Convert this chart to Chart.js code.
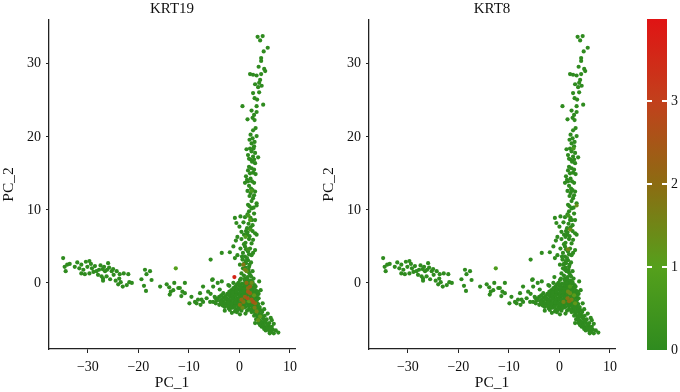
<!DOCTYPE html>
<html>
<head>
<meta charset="utf-8">
<script src="https://cdn.jsdelivr.net/npm/chart.js@4/dist/chart.umd.min.js"></script>
<style>
  html, body { margin: 0; padding: 0; background: #fff; }
  #wrap { position: relative; width: 680px; height: 392px; overflow: hidden; }
  canvas { position: absolute; top: 0; }
</style>
</head>
<body>
<div id="wrap">
  <canvas id="krt19" width="310" height="392" style="left:0"></canvas>
  <canvas id="krt8" width="310" height="392" style="left:320px"></canvas>
  <canvas id="scaleBar" width="40" height="392" style="left:640px"></canvas>
</div>
<script>
// PCA coordinates (PC_1, PC_2) of cells with no KRT19 / KRT8 signal
const leftArmCells = [
  [-34.9,3.4],[-34.6,2.2],[-34.1,2.5],[-33.6,2.6],[-34.4,1.6],[-32.1,2.8],[-31.3,2.5],[-31.7,2.0],[-30.9,1.8],[-30.4,2.9],
  [-29.7,3.0],[-29.4,2.6],[-30.1,2.2],[-31.3,1.3],[-30.6,1.2],[-29.7,1.3],[-28.9,1.5],[-28.3,1.6],[-27.8,1.8],[-27.1,1.9],
  [-26.6,1.6],[-26.0,2.7],[-25.8,2.1],[-26.2,1.8],[-25.3,1.6],[-24.9,1.1],[-27.3,0.9],[-27.0,0.6],[-26.3,0.9],[-25.6,0.5],
  [-27.0,0.3],[-24.3,1.6],[-23.7,1.2],[-23.8,0.6],[-22.9,1.3],[-24.5,0.3],[-23.5,0.1],[-22.0,1.2],[-21.8,0.1],[-21.3,0.0],
  [-23.1,-0.5],[-22.3,-0.3],[-28.6,2.3],[-27.5,2.4],[-26.8,2.2],[-25.0,1.9],[-24.0,-0.2],[-28.0,1.1],[-29.2,2.0],[-32.6,2.2],
  [-19.4,0.5],[-18.7,1.8],[-17.7,1.6],[-18.4,1.2],[-17.4,0.4],[-18.9,-0.4],[-18.5,-1.1],[-15.7,-0.5],[-14.4,-0.2],[-13.9,-0.6],
  [-13.6,-1.2],[-12.9,0.0],[-13.8,-1.6],[-11.8,-0.7],[-13.1,-1.0],[-11.3,-1.2],[-11.5,-1.8],[-10.8,-1.4],[-9.5,-1.9],[-8.8,-2.6],
  [-9.9,-2.8],[-8.2,-2.3],[-7.7,-3.0],[-7.2,-2.6],[-6.5,-2.1],[-5.7,-1.5],[-5.2,-0.5],[-5.4,0.4],[-3.5,0.2],[-12.1,-0.7],
  [-10.8,0.0],[-8.5,-2.8],[-7.5,-2.3],[-5.8,-2.6],[-4.9,-1.9],[-6.2,-1.2],[-7.2,-0.5],[-7.8,-1.4],[-4.3,0.0],[-3.9,-0.9],
  [-2.2,-0.3],[-5.3,0.5],[-2.0,-0.4],[-1.2,0.0]
];
const upperArmCells = [
  [3.6,33.7],[4.6,33.8],[4.1,33.2],[5.6,32.2],[4.3,30.8],[4.3,30.4],[4.9,29.3],[5.1,29.0],[4.3,28.6],[2.1,28.6],
  [2.7,28.5],[3.4,28.4],[4.1,27.8],[3.9,27.4],[3.7,26.8],[2.7,26.0],[3.0,25.3],[3.5,25.1],[4.7,24.4],[0.6,24.2],
  [3.4,24.2],[2.9,23.0],[2.6,22.6],[3.0,22.3],[1.6,22.4],[3.2,21.2],[2.7,20.9],[2.2,20.3],[3.4,20.1],[2.4,19.1],
  [2.9,18.7],[2.1,18.4],[1.4,18.3],[2.4,18.0],[3.1,17.8],[1.7,17.5],[2.7,17.3],[3.7,17.2],[2.2,16.9],[3.1,16.4],
  [2.4,15.7],[1.7,15.4],[2.7,15.1],[3.2,14.9],[1.3,14.6],[2.2,14.3],[1.7,13.9],[2.9,13.7],[1.1,13.7],[2.6,12.7],
  [3.1,12.5],[2.2,12.3],[2.7,11.6],[3.4,10.9],[1.7,10.7],[2.4,10.2],[2.9,9.5],[1.9,9.8],[1.1,9.0],[0.2,9.1],
  [-0.9,8.9],[2.2,8.9],[3.1,8.6],[-0.6,8.2],[0.8,8.3],[1.8,8.1],[2.6,7.9],[0.0,7.7],[1.5,7.5],[2.2,7.6],
  [0.4,7.0],[3.1,6.8],[3.4,6.6],[1.5,6.6],[-0.4,6.3],[0.4,6.0],[1.9,6.0],[-0.7,5.8],[-1.2,5.0],[1.1,5.0],
  [2.1,4.7],[0.2,4.7],[1.7,4.3],[3.1,4.5],[-1.9,4.2],[-3.5,4.1],[-0.4,3.8],[1.1,3.6],[0.6,3.2],[1.7,3.1],
  [-5.7,3.2],[1.3,2.7],[0.1,2.5],[1.9,2.2],[0.7,2.0],[0.4,1.3],[2.1,1.1],[1.1,0.6],[0.1,0.4],[-0.9,3.4],
  [2.0,19.6],[2.6,19.8],[3.0,19.3],[1.9,17.0],[2.9,16.9],[2.5,16.6],[1.9,15.9],[2.9,15.5],[2.1,15.0],[1.5,14.1],
  [2.5,13.9],[1.9,13.3],[2.3,12.9],[1.6,12.6],[2.0,11.9],[2.9,12.0],[2.4,11.2],[2.0,10.5],[2.8,10.3],[1.6,9.4],
  [2.5,8.6],[1.3,7.1],[2.6,7.1],[0.9,6.6],[1.2,5.5],[2.4,5.4],[0.7,4.1],[2.4,3.8],[0.9,2.6],[2.3,2.8],
  [1.8,1.8],[0.9,1.0],[1.6,0.8],[2.6,1.6],[2.8,0.6],[3.4,23.4],[2.4,23.6],[3.9,26.1],[4.4,27.0],[3.1,27.2],
  [4.8,31.7],[3.8,29.6],[1.5,0.2],[2.3,0.9],[1.9,1.4],[1.2,2.1],[2.0,2.5],[1.5,3.4],[1.9,3.9],[1.3,4.6],
  [2.7,4.1],[0.9,5.3],[2.7,5.9],[1.6,6.9],[2.0,6.4],[0.5,3.6],[1.2,3.0]
];
const coreCells = [
  [0.3,0.6],[1.0,0.4],[1.6,0.5],[2.2,0.3],[-0.2,0.0],[0.5,-0.1],[1.2,0.1],[1.9,-0.1],[2.6,0.1],
  [-0.8,-0.5],[-0.1,-0.4],[0.6,-0.6],[1.3,-0.5],[2.0,-0.4],[2.7,-0.6],[3.2,-0.5],
  [-1.6,-1.0],[-0.9,-1.1],[-0.2,-0.9],[0.5,-1.0],[1.2,-1.1],[1.9,-0.9],[2.6,-1.0],[3.3,-1.1],
  [-3.2,-1.4],[-2.4,-1.5],[-1.7,-1.6],[-1.0,-1.4],[-0.3,-1.5],[0.4,-1.6],[1.1,-1.4],[1.8,-1.5],[2.5,-1.6],[3.2,-1.4],[3.8,-1.5],
  [-4.7,-2.1],[-4.0,-1.9],[-3.2,-2.0],[-2.5,-2.1],[-1.8,-1.9],[-1.1,-2.0],[-0.4,-2.1],[0.3,-1.9],[1.0,-2.0],[1.7,-2.1],[2.4,-1.9],[3.1,-2.0],[3.8,-2.1],
  [-5.2,-2.6],[-4.5,-2.4],[-3.8,-2.5],[-3.1,-2.6],[-2.4,-2.4],[-1.7,-2.5],[-1.0,-2.6],[-0.3,-2.4],[0.4,-2.5],[1.1,-2.6],[1.8,-2.4],[2.5,-2.5],[3.2,-2.6],
  [-4.0,-3.0],[-3.3,-3.1],[-2.6,-2.9],[-1.9,-3.0],[-1.2,-3.1],[-0.5,-2.9],[0.2,-3.0],[0.9,-3.1],[1.6,-2.9],[2.3,-3.0],[3.0,-3.1],[3.7,-2.9],
  [-2.1,-3.5],[-1.4,-3.4],[-0.7,-3.6],[0.0,-3.5],[0.8,-3.4],[1.9,-3.6],[2.6,-3.5],[3.3,-3.4],[4.0,-3.6],
  [-0.5,-4.0],[2.4,-4.0],[3.1,-4.1],[3.8,-3.9],[4.5,-4.0],
  [4.6,-2.8],[4.2,-1.0],[3.9,0.2],[-2.9,-3.8],[-1.5,-4.1],[0.1,-4.3],[1.2,-4.2],[4.9,-3.6],[-1.9,-3.7],[-0.9,-3.9],
  [-0.5,-0.2],[0.2,-0.3],[0.9,-0.2],[1.6,-0.3],[2.3,-0.2],[3.0,-0.3],
  [-1.2,-0.7],[-0.5,-0.8],[0.2,-0.7],[0.9,-0.8],[1.6,-0.7],[2.3,-0.8],[3.0,-0.7],
  [-2.0,-1.2],[-1.3,-1.3],[-0.6,-1.2],[0.1,-1.3],[0.8,-1.2],[1.5,-1.3],[2.2,-1.2],[2.9,-1.3],[3.6,-1.2],
  [-3.6,-1.7],[-2.8,-1.8],[-2.1,-1.7],[-1.4,-1.8],[-0.7,-1.7],[0.0,-1.8],[0.7,-1.7],[1.4,-1.8],[2.1,-1.7],[2.8,-1.8],[3.5,-1.7],
  [-4.3,-2.2],[-3.5,-2.3],[-2.8,-2.2],[-2.1,-2.3],[-1.4,-2.2],[-0.7,-2.3],[0.0,-2.2],[0.7,-2.3],[1.4,-2.2],[2.1,-2.3],[2.8,-2.2],[3.5,-2.3],
  [-4.7,-2.8],[-3.6,-2.7],[-2.9,-2.8],[-2.2,-2.7],[-1.5,-2.8],[-0.8,-2.7],[-0.1,-2.8],[0.6,-2.7],[1.3,-2.8],[2.0,-2.7],[2.7,-2.8],[3.4,-2.7],
  [-2.9,-3.3],[-2.3,-3.2],[-1.6,-3.3],[-0.9,-3.2],[-0.2,-3.3],[0.5,-3.2],[1.2,-3.3],[1.9,-3.2],[2.6,-3.3],[3.3,-3.2],[4.0,-3.3],
  [1.5,-3.8],[2.2,-3.7],[2.9,-3.8],[3.6,-3.7],[4.3,-3.8],[-0.3,-3.7],[0.4,-3.8]
];
const lowerArmCells = [
  [2.9,-4.5],[3.6,-4.6],[4.3,-4.4],[5.0,-4.5],[3.3,-5.0],[4.0,-5.1],[4.7,-4.9],[5.4,-5.0],
  [3.1,-5.5],[3.8,-5.5],[4.5,-5.6],[5.2,-5.4],[5.9,-5.5],[4.4,-6.0],[5.1,-6.1],[5.8,-5.9],[6.4,-6.0],
  [5.2,-6.5],[5.9,-6.6],[6.6,-6.4],[7.2,-6.5],[6.8,-6.9],[7.7,-6.8],[6.0,-6.9],[6.4,-5.1],
  [5.6,-4.2],[6.2,-4.8],[6.8,-5.6],[4.7,-6.0],[3.2,-4.2],[3.9,-4.3],[4.6,-4.7],[3.6,-4.8],[4.3,-5.3],
  [5.0,-5.3],[4.1,-5.8],[4.8,-5.8],[5.5,-5.7],[4.9,-6.3],[5.6,-6.3],[6.2,-6.2],[6.3,-6.7]
];
// cells with signal in at least one gene, and their scaled expression
const exprCells = [
  [-1.0,0.8],[-12.6,2.0],[0.8,2.5],[1.1,1.8],[1.4,0.0],[2.1,-0.5],[1.7,-1.2],[1.1,-1.9],[0.4,-2.3],[0.1,-3.0],
  [2.4,-2.3],[3.1,-2.8],[3.4,-3.9],[3.7,-5.1],[2.7,-2.6],[2.4,0.0],[1.7,-0.7],[2.1,-1.4],[1.6,-2.1],[0.8,-2.6],
  [1.4,1.6],[4.1,-4.6],[3.0,-3.4],[0.6,-3.4],[2.1,7.3],[3.4,10.6],[1.7,4.6],[1.9,-2.5],[2.9,-1.7],[2.4,12.6],
  [1.8,9.2],[2.8,18.4],[1.2,6.3],[2.1,8.6]
];
const krt19Expr = [
  3.6,1.0,1.8,1.6,2.0,2.2,2.4,2.2,2.0,1.9,
  2.3,2.0,1.5,1.2,2.5,1.4,1.9,2.1,2.6,1.8,
  1.3,1.1,1.7,1.4,0.5,0,0.4,1.0,1.2,0.7,
  0.6,0,0.8,0.9
];
const krt8Expr = [
  0,0.8,0,0,0,0.6,1.4,0,0,0,
  1.6,1.2,0,0,0,0,0,1.3,1.8,1.5,
  0,0,0,0,1.4,1.3,1.5,1.9,1.1,0,
  0.5,0.6,0,0
];
const pcTicksX = [-30, -20, -10, 0, 10];
const pcTicksY = [0, 10, 20, 30];
const scaleTicks = [0, 1, 2, 3];
const scaleStops = [0, 1, 2, 3, 3.99];
const scaleColors = ['#2f8b1f', '#55a01c', '#8c6c12', '#c2401c', '#e01414'];

const serif = "'Liberation Serif', 'DejaVu Serif', 'Times New Roman', serif";
const ink = '#111';
const baseCells = leftArmCells.concat(upperArmCells, coreCells, lowerArmCells);
const exprMax = scaleStops[scaleStops.length - 1];

function hexRgb(h) {
  return [1, 3, 5].map(i => parseInt(h.slice(i, i + 2), 16));
}

function exprColor(v) {
  if (v <= scaleStops[0]) return scaleColors[0];
  for (let i = 1; i < scaleStops.length; i++) {
    if (v <= scaleStops[i]) {
      const f = (v - scaleStops[i - 1]) / (scaleStops[i] - scaleStops[i - 1]);
      const a = hexRgb(scaleColors[i - 1]), b = hexRgb(scaleColors[i]);
      const c = a.map((ch, k) => Math.round(ch + (b[k] - ch) * f));
      return `rgb(${c[0]},${c[1]},${c[2]})`;
    }
  }
  return scaleColors[scaleColors.length - 1];
}

const minusFmt = v => (v < 0 ? '\u2212' + Math.abs(v) : String(v));

function panelPoints(expr) {
  const pts = baseCells.map(([x, y]) => ({ x, y, v: 0 }));
  const hi = exprCells.map(([x, y], i) => ({ x, y, v: expr[i] })).sort((a, b) => a.v - b.v);
  return pts.concat(hi);
}

function makePanel(id, gene, expr) {
  return new Chart(document.getElementById(id), {
    type: 'scatter',
    data: {
      datasets: [{
        data: panelPoints(expr),
        pointRadius: 2.1,
        pointBorderWidth: 0,
        pointBackgroundColor: ctx => exprColor(ctx.raw ? ctx.raw.v : 0),
      }],
    },
    options: {
      responsive: false,
      animation: false,
      layout: { padding: { left: 0, right: 15, top: 0, bottom: 0 } },
      plugins: {
        legend: { display: false },
        tooltip: { enabled: false },
        title: {
          display: true, text: gene, fullSize: false, color: ink,
          font: { family: serif, size: 15, weight: 'normal' },
          padding: { top: 0, bottom: 2 },
        },
      },
      scales: {
        x: {
          type: 'linear', min: -37.7, max: 11,
          afterBuildTicks: s => { s.ticks = pcTicksX.map(v => ({ value: v })); },
          afterFit: s => { s.height = 43; },
          ticks: { color: ink, font: { family: serif, size: 14 }, padding: 6, callback: minusFmt },
          grid: { drawOnChartArea: false, drawTicks: true, tickLength: 4, color: '#222' },
          border: { display: true, color: '#222', width: 1.3 },
          title: { display: true, text: 'PC_1', color: ink, font: { family: serif, size: 15.5 }, padding: 0 },
        },
        y: {
          type: 'linear', min: -9.05, max: 36,
          afterBuildTicks: s => { s.ticks = pcTicksY.map(v => ({ value: v })); },
          afterFit: s => { s.width = 49; },
          ticks: { color: ink, font: { family: serif, size: 14 }, padding: 5, callback: minusFmt },
          grid: { drawOnChartArea: false, drawTicks: true, tickLength: 3, color: '#222' },
          border: { display: true, color: '#222', width: 1.3 },
          title: { display: true, text: 'PC_2', color: ink, font: { family: serif, size: 15.5 }, padding: 0 },
        },
      },
    },
  });
}

makePanel('krt19', 'KRT19', krt19Expr);
makePanel('krt8', 'KRT8', krt8Expr);

// white tick dashes on the colour bar edges
const barDashes = {
  id: 'barDashes',
  afterDatasetsDraw(chart) {
    const { ctx, chartArea, scales } = chart;
    ctx.save();
    ctx.strokeStyle = '#fff';
    ctx.lineWidth = 2;
    scaleTicks.filter(v => v > 0).forEach(v => {
      const y = Math.round(scales.y.getPixelForValue(v));
      ctx.beginPath();
      ctx.moveTo(chartArea.left, y); ctx.lineTo(chartArea.left + 5, y);
      ctx.moveTo(chartArea.right - 5, y); ctx.lineTo(chartArea.right, y);
      ctx.stroke();
    });
    ctx.restore();
  },
};

new Chart(document.getElementById('scaleBar'), {
  type: 'bar',
  data: {
    labels: [''],
    datasets: [{
      data: [[0, exprMax]],
      borderWidth: 0,
      barPercentage: 1,
      categoryPercentage: 1,
      backgroundColor: ctx => {
        const { chart } = ctx;
        if (!chart.chartArea) return scaleColors[0];
        const y = chart.scales.y;
        const g = chart.ctx.createLinearGradient(0, y.getPixelForValue(0), 0, y.getPixelForValue(exprMax));
        scaleStops.forEach((s, i) => g.addColorStop(s / exprMax, scaleColors[i]));
        return g;
      },
    }],
  },
  options: {
    responsive: false,
    animation: false,
    layout: { padding: { left: 7, right: 0, top: 19, bottom: 42 } },
    plugins: { legend: { display: false }, tooltip: { enabled: false } },
    scales: {
      x: { display: false },
      y: {
        position: 'right', min: 0, max: exprMax,
        afterBuildTicks: s => { s.ticks = scaleTicks.map(v => ({ value: v })); },
        afterFit: s => { s.width = 13; },
        grid: { display: false, drawTicks: false },
        border: { display: false },
        ticks: { color: ink, font: { family: serif, size: 14 }, padding: 4 },
      },
    },
  },
  plugins: [barDashes],
});
</script>
</body>
</html>
